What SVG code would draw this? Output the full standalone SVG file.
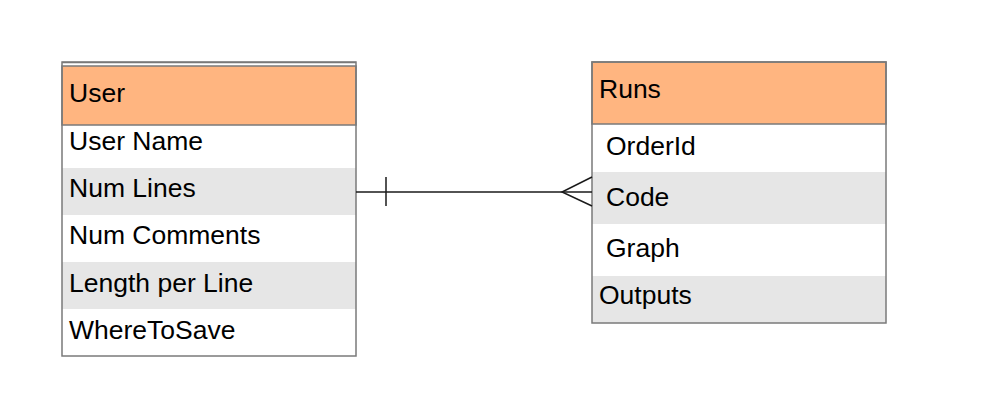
<svg xmlns="http://www.w3.org/2000/svg" width="987" height="413" viewBox="0 0 987 413">
<style>
.hdr{fill:#ffb580;stroke:#7a7a7a;stroke-width:1.5}
.row{fill:#ffffff;stroke:none}
.alt{fill:#e6e6e6;stroke:none}
.frame{fill:none;stroke:#7a7a7a;stroke-width:1.5}
text{font-family:"Liberation Sans",Arial,sans-serif;font-size:26.5px;fill:#000}
.conn{stroke:#1a1a1a;stroke-width:1.5;fill:none}
</style>
<rect width="987" height="413" fill="#ffffff"/>
<g id="user">
<rect class="row" x="62" y="125" width="294" height="231"/>
<rect class="alt" x="62" y="168" width="294" height="47"/>
<rect class="alt" x="62" y="262" width="294" height="47"/>
<rect class="hdr" x="62" y="66" width="294" height="59"/>
<line x1="62" y1="62.5" x2="356" y2="62.5" stroke="#7a7a7a" stroke-width="1.5"/>
<rect class="frame" x="62" y="62" width="294" height="294"/>
<text x="69" y="102">User</text>
<text x="69" y="150">User Name</text>
<text x="69" y="197">Num Lines</text>
<text x="69" y="244">Num Comments</text>
<text x="69" y="292">Length per Line</text>
<text x="69" y="339">WhereToSave</text>
</g>
<g id="runs">
<rect class="row" x="592" y="124" width="294" height="199"/>
<rect class="alt" x="592" y="172" width="294" height="52"/>
<rect class="alt" x="592" y="276" width="294" height="47"/>
<rect class="hdr" x="592" y="62" width="294" height="62"/>
<rect class="frame" x="592" y="62" width="294" height="261"/>
<text x="599" y="98">Runs</text>
<text x="606" y="155">OrderId</text>
<text x="606" y="206">Code</text>
<text x="606" y="257">Graph</text>
<text x="599" y="304">Outputs</text>
</g>
<g id="connectors">
<line class="conn" x1="356" y1="192" x2="592" y2="192"/>
<line class="conn" x1="386" y1="177" x2="386" y2="206"/>
<polyline class="conn" points="592,177 562,192 592,206"/>
</g>
</svg>
